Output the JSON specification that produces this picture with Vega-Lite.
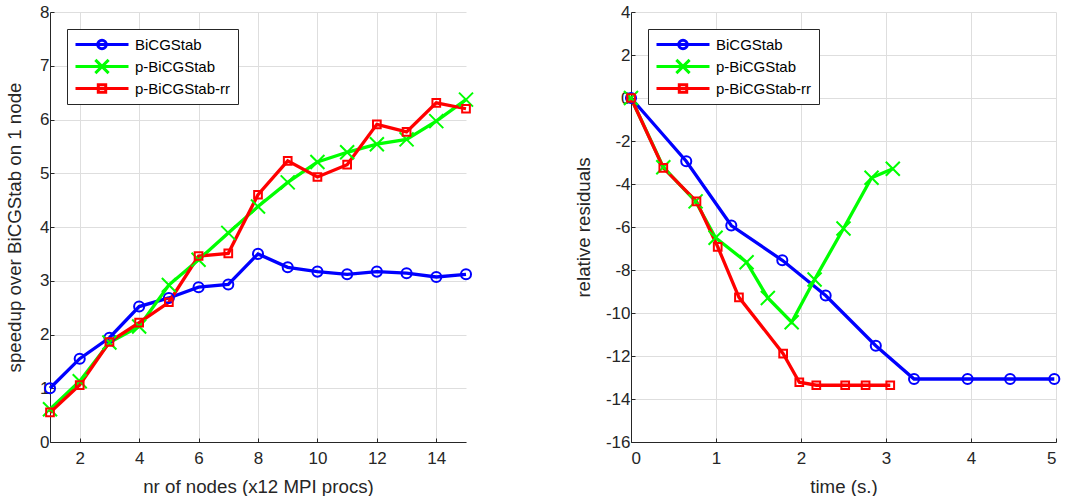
{
  "$schema": "https://vega.github.io/schema/vega-lite/v6.json",
  "background": "white",
  "padding": {"left": 5, "top": 3, "right": 0, "bottom": 0},
  "spacing": 97,
  "datasets": {
    "speedup": [
      {"series": "BiCGStab", "x": 1, "y": 1.0},
      {"series": "BiCGStab", "x": 2, "y": 1.55},
      {"series": "BiCGStab", "x": 3, "y": 1.94},
      {"series": "BiCGStab", "x": 4, "y": 2.52},
      {"series": "BiCGStab", "x": 5, "y": 2.68},
      {"series": "BiCGStab", "x": 6, "y": 2.88},
      {"series": "BiCGStab", "x": 7, "y": 2.93},
      {"series": "BiCGStab", "x": 8, "y": 3.5},
      {"series": "BiCGStab", "x": 9, "y": 3.25},
      {"series": "BiCGStab", "x": 10, "y": 3.17},
      {"series": "BiCGStab", "x": 11, "y": 3.12},
      {"series": "BiCGStab", "x": 12, "y": 3.17},
      {"series": "BiCGStab", "x": 13, "y": 3.14},
      {"series": "BiCGStab", "x": 14, "y": 3.07},
      {"series": "BiCGStab", "x": 15, "y": 3.12},
      {"series": "p-BiCGStab", "x": 1, "y": 0.61},
      {"series": "p-BiCGStab", "x": 2, "y": 1.13},
      {"series": "p-BiCGStab", "x": 3, "y": 1.85},
      {"series": "p-BiCGStab", "x": 4, "y": 2.15},
      {"series": "p-BiCGStab", "x": 5, "y": 2.92},
      {"series": "p-BiCGStab", "x": 6, "y": 3.39},
      {"series": "p-BiCGStab", "x": 7, "y": 3.89},
      {"series": "p-BiCGStab", "x": 8, "y": 4.38},
      {"series": "p-BiCGStab", "x": 9, "y": 4.83},
      {"series": "p-BiCGStab", "x": 10, "y": 5.21},
      {"series": "p-BiCGStab", "x": 11, "y": 5.39},
      {"series": "p-BiCGStab", "x": 12, "y": 5.54},
      {"series": "p-BiCGStab", "x": 13, "y": 5.63},
      {"series": "p-BiCGStab", "x": 14, "y": 5.97},
      {"series": "p-BiCGStab", "x": 15, "y": 6.37},
      {"series": "p-BiCGStab-rr", "x": 1, "y": 0.55},
      {"series": "p-BiCGStab-rr", "x": 2, "y": 1.06},
      {"series": "p-BiCGStab-rr", "x": 3, "y": 1.86},
      {"series": "p-BiCGStab-rr", "x": 4, "y": 2.22},
      {"series": "p-BiCGStab-rr", "x": 5, "y": 2.6},
      {"series": "p-BiCGStab-rr", "x": 6, "y": 3.46},
      {"series": "p-BiCGStab-rr", "x": 7, "y": 3.51},
      {"series": "p-BiCGStab-rr", "x": 8, "y": 4.6},
      {"series": "p-BiCGStab-rr", "x": 9, "y": 5.23},
      {"series": "p-BiCGStab-rr", "x": 10, "y": 4.93},
      {"series": "p-BiCGStab-rr", "x": 11, "y": 5.16},
      {"series": "p-BiCGStab-rr", "x": 12, "y": 5.91},
      {"series": "p-BiCGStab-rr", "x": 13, "y": 5.77},
      {"series": "p-BiCGStab-rr", "x": 14, "y": 6.31},
      {"series": "p-BiCGStab-rr", "x": 15, "y": 6.2}
    ],
    "residuals": [
      {"series": "BiCGStab", "t": 0, "r": 0},
      {"series": "BiCGStab", "t": 0.65, "r": -2.94},
      {"series": "BiCGStab", "t": 1.18, "r": -5.93},
      {"series": "BiCGStab", "t": 1.78, "r": -7.55},
      {"series": "BiCGStab", "t": 2.29, "r": -9.19},
      {"series": "BiCGStab", "t": 2.88, "r": -11.52},
      {"series": "BiCGStab", "t": 3.33, "r": -13.07},
      {"series": "BiCGStab", "t": 3.96, "r": -13.07},
      {"series": "BiCGStab", "t": 4.46, "r": -13.07},
      {"series": "BiCGStab", "t": 4.98, "r": -13.07},
      {"series": "p-BiCGStab", "t": 0, "r": 0},
      {"series": "p-BiCGStab", "t": 0.38, "r": -3.22},
      {"series": "p-BiCGStab", "t": 0.76, "r": -4.81},
      {"series": "p-BiCGStab", "t": 0.995, "r": -6.5},
      {"series": "p-BiCGStab", "t": 1.36, "r": -7.64},
      {"series": "p-BiCGStab", "t": 1.61, "r": -9.3},
      {"series": "p-BiCGStab", "t": 1.89, "r": -10.43},
      {"series": "p-BiCGStab", "t": 2.16, "r": -8.44},
      {"series": "p-BiCGStab", "t": 2.5, "r": -6.07},
      {"series": "p-BiCGStab", "t": 2.83, "r": -3.71},
      {"series": "p-BiCGStab", "t": 3.08, "r": -3.29},
      {"series": "p-BiCGStab-rr", "t": 0, "r": 0},
      {"series": "p-BiCGStab-rr", "t": 0.38, "r": -3.25},
      {"series": "p-BiCGStab-rr", "t": 0.77, "r": -4.81},
      {"series": "p-BiCGStab-rr", "t": 1.02, "r": -6.92},
      {"series": "p-BiCGStab-rr", "t": 1.27, "r": -9.27},
      {"series": "p-BiCGStab-rr", "t": 1.79, "r": -11.89},
      {"series": "p-BiCGStab-rr", "t": 1.98, "r": -13.22},
      {"series": "p-BiCGStab-rr", "t": 2.18, "r": -13.36},
      {"series": "p-BiCGStab-rr", "t": 2.52, "r": -13.36},
      {"series": "p-BiCGStab-rr", "t": 2.76, "r": -13.36},
      {"series": "p-BiCGStab-rr", "t": 3.05, "r": -13.36}
    ]
  },
  "hconcat": [
    {
      "width": 416,
      "height": 430,
      "data": {"name": "speedup"},
      "encoding": {
        "x": {"field": "x", "type": "quantitative", "title": "nr of nodes (x12 MPI procs)",
              "scale": {"domain": [1, 15], "nice": false, "zero": false},
              "axis": {"values": [2, 4, 6, 8, 10, 12, 14]}},
        "y": {"field": "y", "type": "quantitative", "title": "speedup over BiCGStab on 1 node",
              "scale": {"domain": [0, 8], "nice": false},
              "axis": {"values": [0, 1, 2, 3, 4, 5, 6, 7, 8], "titlePadding": 15}}
      },
      "layer": [
        {"mark": {"type": "line", "strokeWidth": 3.3},
         "encoding": {"color": {"field": "series", "type": "nominal", "legend": null,
                  "scale": {"domain": ["BiCGStab", "p-BiCGStab", "p-BiCGStab-rr"], "range": ["#0000ff", "#00ff00", "#ff0000"]}}}},
        {"mark": {"type": "point", "filled": false, "strokeWidth": 2, "opacity": 1, "size": 196},
         "encoding": {
           "color": {"field": "series", "type": "nominal", "legend": null,
                  "scale": {"domain": ["BiCGStab", "p-BiCGStab", "p-BiCGStab-rr"], "range": ["#0000ff", "#00ff00", "#ff0000"]}},
           "shape": {"field": "series", "type": "nominal", "legend": null,
                     "scale": {"domain": ["BiCGStab", "p-BiCGStab", "p-BiCGStab-rr"], "range": ["M0.72,0A0.72,0.72,0,1,1,-0.72,0A0.72,0.72,0,1,1,0.72,0Z", "M-1,-1L1,1M-1,1L1,-1", "M-0.55,-0.55L0.55,-0.55L0.55,0.55L-0.55,0.55Z"]}}
         }},
        {"transform": [{"filter": "false"}],
         "mark": {"type": "point", "filled": false, "strokeWidth": 3, "opacity": 1},
         "encoding": {
           "color": {"field": "series", "type": "nominal",
                  "scale": {"domain": ["BiCGStab", "p-BiCGStab", "p-BiCGStab-rr"], "range": ["#0000ff", "#00ff00", "#ff0000"]},
                  "legend": {"orient": "top-left", "offset": 17, "title": null, "fillColor": "white", "strokeColor": "#262626", "padding": 7, "symbolSize": 2809, "symbolStrokeWidth": 3, "symbolFillColor": "transparent", "symbolOpacity": 1, "labelFont": "Liberation Sans", "labelFontSize": 15, "labelFontWeight": "normal", "labelColor": "#000000", "labelOffset": 5, "labelLimit": 300, "rowPadding": 5, "clipHeight": 17}},
           "shape": {"field": "series", "type": "nominal",
                     "scale": {"domain": ["BiCGStab", "p-BiCGStab", "p-BiCGStab-rr"], "range": ["M-1,0L1,0M0.16,0A0.16,0.16,0,1,1,-0.16,0A0.16,0.16,0,1,1,0.16,0", "M-1,0L1,0M-0.25,-0.25L0.25,0.25M-0.25,0.25L0.25,-0.25", "M-1,0L1,0M-0.14,-0.14L0.14,-0.14L0.14,0.14L-0.14,0.14Z"]},
                     "legend": {"orient": "top-left", "offset": 17, "title": null, "fillColor": "white", "strokeColor": "#262626", "padding": 7, "symbolSize": 2809, "symbolStrokeWidth": 3, "symbolFillColor": "transparent", "symbolOpacity": 1, "labelFont": "Liberation Sans", "labelFontSize": 15, "labelFontWeight": "normal", "labelColor": "#000000", "labelOffset": 5, "labelLimit": 300, "rowPadding": 5, "clipHeight": 17}}
         }}
      ],
      "resolve": {"scale": {"color": "independent", "shape": "independent"}}
    },
    {
      "width": 425,
      "height": 430,
      "data": {"name": "residuals"},
      "encoding": {
        "x": {"field": "t", "type": "quantitative", "title": "time (s.)",
              "scale": {"domain": [0, 5], "nice": false},
              "axis": {"values": [0, 1, 2, 3, 4, 5]}},
        "y": {"field": "r", "type": "quantitative", "title": "relative residuals",
              "scale": {"domain": [-16, 4], "nice": false, "zero": false},
              "axis": {"values": [-16, -14, -12, -10, -8, -6, -4, -2, 0, 2, 4], "titlePadding": 12,
                       "labelExpr": "datum.value < 0 ? '-' + abs(datum.value) : '' + datum.value"}}
      },
      "layer": [
        {"mark": {"type": "line", "strokeWidth": 3.3},
         "encoding": {"color": {"field": "series", "type": "nominal", "legend": null,
                  "scale": {"domain": ["BiCGStab", "p-BiCGStab", "p-BiCGStab-rr"], "range": ["#0000ff", "#00ff00", "#ff0000"]}}}},
        {"mark": {"type": "point", "filled": false, "strokeWidth": 2, "opacity": 1, "size": 196},
         "encoding": {
           "color": {"field": "series", "type": "nominal", "legend": null,
                  "scale": {"domain": ["BiCGStab", "p-BiCGStab", "p-BiCGStab-rr"], "range": ["#0000ff", "#00ff00", "#ff0000"]}},
           "shape": {"field": "series", "type": "nominal", "legend": null,
                     "scale": {"domain": ["BiCGStab", "p-BiCGStab", "p-BiCGStab-rr"], "range": ["M0.72,0A0.72,0.72,0,1,1,-0.72,0A0.72,0.72,0,1,1,0.72,0Z", "M-1,-1L1,1M-1,1L1,-1", "M-0.55,-0.55L0.55,-0.55L0.55,0.55L-0.55,0.55Z"]}}
         }},
        {"transform": [{"filter": "false"}],
         "mark": {"type": "point", "filled": false, "strokeWidth": 3, "opacity": 1},
         "encoding": {
           "color": {"field": "series", "type": "nominal",
                  "scale": {"domain": ["BiCGStab", "p-BiCGStab", "p-BiCGStab-rr"], "range": ["#0000ff", "#00ff00", "#ff0000"]},
                  "legend": {"orient": "top-left", "offset": 17, "title": null, "fillColor": "white", "strokeColor": "#262626", "padding": 7, "symbolSize": 2809, "symbolStrokeWidth": 3, "symbolFillColor": "transparent", "symbolOpacity": 1, "labelFont": "Liberation Sans", "labelFontSize": 15, "labelFontWeight": "normal", "labelColor": "#000000", "labelOffset": 5, "labelLimit": 300, "rowPadding": 5, "clipHeight": 17}},
           "shape": {"field": "series", "type": "nominal",
                     "scale": {"domain": ["BiCGStab", "p-BiCGStab", "p-BiCGStab-rr"], "range": ["M-1,0L1,0M0.16,0A0.16,0.16,0,1,1,-0.16,0A0.16,0.16,0,1,1,0.16,0", "M-1,0L1,0M-0.25,-0.25L0.25,0.25M-0.25,0.25L0.25,-0.25", "M-1,0L1,0M-0.14,-0.14L0.14,-0.14L0.14,0.14L-0.14,0.14Z"]},
                     "legend": {"orient": "top-left", "offset": 17, "title": null, "fillColor": "white", "strokeColor": "#262626", "padding": 7, "symbolSize": 2809, "symbolStrokeWidth": 3, "symbolFillColor": "transparent", "symbolOpacity": 1, "labelFont": "Liberation Sans", "labelFontSize": 15, "labelFontWeight": "normal", "labelColor": "#000000", "labelOffset": 5, "labelLimit": 300, "rowPadding": 5, "clipHeight": 17}}
         }}
      ],
      "resolve": {"scale": {"color": "independent", "shape": "independent"}}
    }
  ],
  "resolve": {"scale": {"color": "independent", "shape": "independent"}, "legend": {"color": "independent", "shape": "independent"}},
  "config": {
    "view": {"stroke": null},
    "font": "Liberation Sans",
    "axis": {
      "domainColor": "#262626",
      "domainWidth": 1,
      "grid": true,
      "gridColor": "#dedede",
      "gridWidth": 1,
      "ticks": true,
      "tickColor": "#262626",
      "tickSize": -4,
      "labelFont": "Liberation Sans",
      "labelFontSize": 17,
      "labelColor": "#262626",
      "labelPadding": 12,
      "titleFont": "Liberation Sans",
      "titleFontSize": 18.7,
      "titleFontWeight": "normal",
      "titleColor": "#262626",
      "titlePadding": 11
    },
    "axisY": {"labelPadding": 5}
  }
}
